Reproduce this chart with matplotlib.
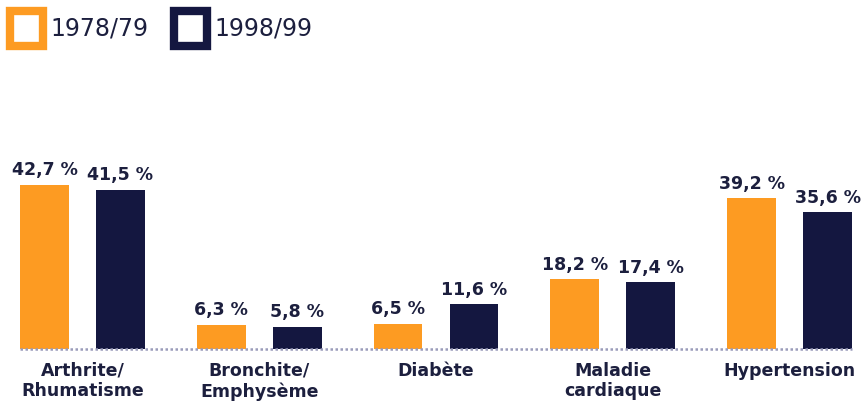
import numpy as np
import matplotlib.pyplot as plt
from matplotlib.patches import Rectangle

categories = ["Arthrite/\nRhumatisme", "Bronchite/\nEmphysème", "Diabète",
              "Maladie\ncardiaque", "Hypertension"]
periods = ["1978/79", "1998/99"]
values_7879 = [42.7, 6.3, 6.5, 18.2, 39.2]
values_9899 = [41.5, 5.8, 11.6, 17.4, 35.6]

orange = "#fd9b22"
navy = "#141740"
ink = "#1c1f3e"

W, H = 863, 405
fig = plt.figure(figsize=(W / 100, H / 100), dpi=100)

# axes placed in pixel units so bars line up with the category labels
left, right, base, top = 20, 852, 349, 157
ax = fig.add_axes([left / W, (H - base) / H, (right - left) / W, (base - top) / H])

x = np.arange(len(categories))
w = 0.277
off = 0.215
b1 = ax.bar(x - off, values_7879, w, color=orange, linewidth=0)
b2 = ax.bar(x + off, values_9899, w, color=navy, linewidth=0)

ax.set_xlim(-off - w / 2, len(categories) - 1 + off + w / 2)
ax.set_ylim(0, 50)
ax.axis("off")
ax.axhline(0, color="#9a9cba", lw=1.8, ls=(0, (1, 1)), clip_on=False, zorder=3)

for bars, vals in ((b1, values_7879), (b2, values_9899)):
    for rect, v in zip(bars, vals):
        ax.annotate(f"{v:.1f} %".replace(".", ","),
                    (rect.get_x() + rect.get_width() / 2, v),
                    xytext=(0, 4), textcoords="offset points",
                    ha="center", va="bottom", fontsize=12.5, fontweight="bold",
                    color=ink, family="DejaVu Sans")

for xi, name in zip(x, categories):
    ax.annotate(name, (xi, 0), xytext=(0, -9), textcoords="offset points",
                ha="center", va="top", fontsize=12.5, fontweight="bold",
                color=ink, linespacing=1.2, family="DejaVu Sans",
                annotation_clip=False)

# hollow square legend keys at the top left
for (px, label, col) in ((10, periods[0], orange), (174, periods[1], navy)):
    fig.patches.append(Rectangle((px / W, (H - 46) / H), 33 / W, 35 / H,
                                 transform=fig.transFigure, facecolor="white",
                                 edgecolor=col, linewidth=6))
    fig.text((px + 40) / W, (H - 29) / H, label, fontsize=17, color=ink,
             va="center", ha="left", family="DejaVu Sans")

fig.savefig("out.png", dpi=100)
